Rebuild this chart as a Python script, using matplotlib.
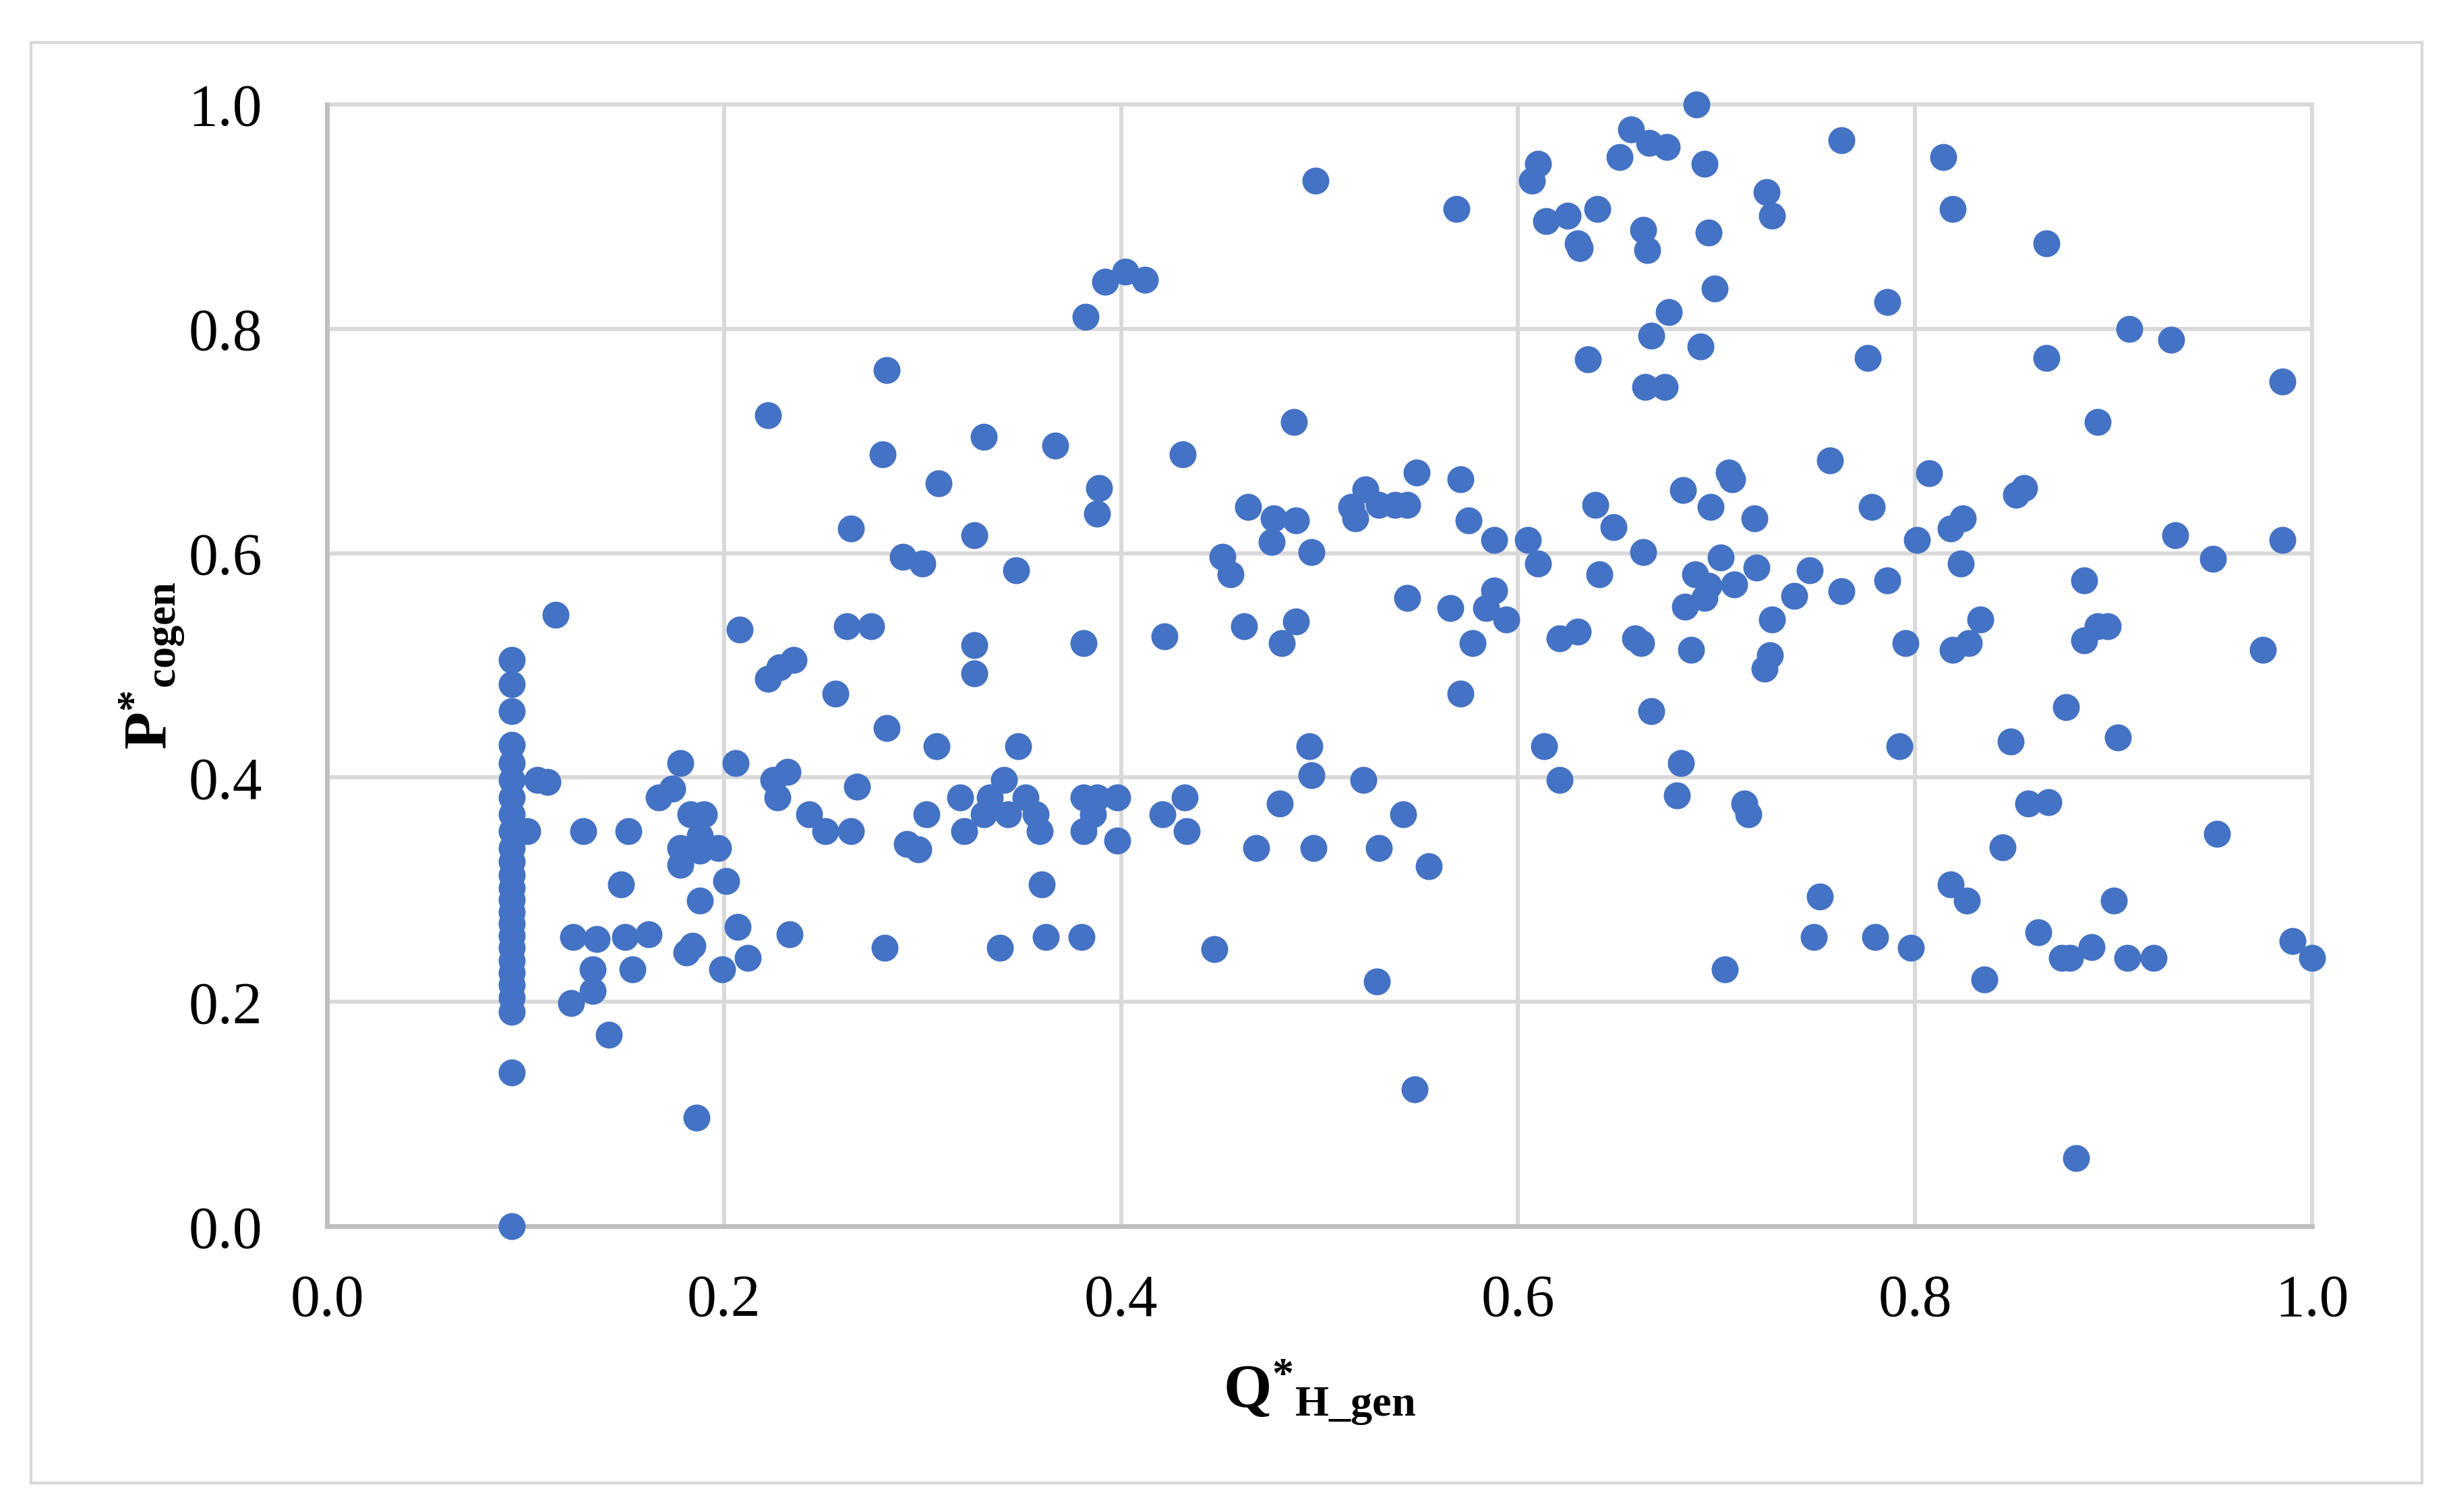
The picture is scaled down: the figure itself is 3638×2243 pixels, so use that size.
import matplotlib
matplotlib.use('Agg')
import matplotlib.pyplot as plt
from matplotlib.patches import Rectangle

plt.rcParams['font.family'] = ['Liberation Serif', 'DejaVu Serif']
plt.rcParams['mathtext.fontset'] = 'custom'
plt.rcParams['mathtext.rm'] = 'Liberation Serif'
plt.rcParams['mathtext.bf'] = 'Liberation Serif:bold'
plt.rcParams['mathtext.it'] = 'Liberation Serif:italic'

# Pontos (Q*_H_gen, P*_cogen).
q_h_gen = [
    0.093, 0.093, 0.093, 0.093, 0.093, 0.093, 0.093, 0.093, 0.093, 0.093,
    0.093, 0.093, 0.093, 0.093, 0.093, 0.093, 0.093, 0.093, 0.093, 0.093,
    0.093, 0.093, 0.093, 0.093, 0.093,
    0.106, 0.111, 0.101, 0.115,
    0.308, 0.264, 0.326, 0.290, 0.300,
    0.208, 0.262, 0.274, 0.326, 0.326,
    0.235, 0.228, 0.222, 0.256, 0.282, 0.307,
    0.178, 0.206, 0.232, 0.225, 0.227,
    0.174, 0.167, 0.267, 0.243, 0.251, 0.264,
    0.183, 0.190, 0.129, 0.152, 0.188,
    0.178, 0.197, 0.188, 0.292, 0.298,
    0.302, 0.319, 0.331, 0.321,
    0.178, 0.148, 0.201, 0.188, 0.207, 0.233,
    0.124, 0.136, 0.150, 0.162, 0.181, 0.184,
    0.212, 0.199, 0.134, 0.154, 0.134, 0.123,
    0.142, 0.186, 0.281, 0.339,
    0.282, 0.222, 0.331, 0.280,
    0.657, 0.666, 0.675, 0.651, 0.610, 0.607, 0.498,
    0.569, 0.640, 0.614, 0.625, 0.630, 0.631, 0.663, 0.665,
    0.402, 0.392, 0.412, 0.382, 0.667, 0.635, 0.664,
    0.487, 0.367, 0.431, 0.549, 0.571,
    0.690, 0.763, 0.694, 0.814, 0.725, 0.728, 0.819, 0.696,
    0.866, 0.699, 0.786, 0.676, 0.692, 0.776, 0.908, 0.929,
    0.866, 0.985, 0.674, 0.892, 0.757, 0.706, 0.708, 0.807,
    0.683, 0.697, 0.719, 0.778, 0.855, 0.851, 0.824, 0.818, 0.801,
    0.931, 0.985, 0.663, 0.702, 0.950, 0.823, 0.689, 0.720, 0.747,
    0.696, 0.709, 0.786, 0.763, 0.885, 0.739, 0.694, 0.684, 0.728,
    0.833, 0.892, 0.897, 0.885, 0.662, 0.687, 0.795, 0.827, 0.819,
    0.975, 0.727, 0.724, 0.667, 0.876, 0.848, 0.902, 0.792, 0.682,
    0.680, 0.714, 0.716, 0.857, 0.867, 0.952, 0.844,
    0.389, 0.388, 0.464, 0.477, 0.488, 0.476, 0.496, 0.451, 0.455,
    0.523, 0.516, 0.518, 0.530, 0.538, 0.544,
    0.575, 0.588, 0.605, 0.610, 0.639, 0.648, 0.641, 0.347,
    0.544, 0.566, 0.588, 0.584, 0.594, 0.577, 0.621, 0.630, 0.659,
    0.381, 0.422, 0.462, 0.488, 0.481, 0.571,
    0.348, 0.495, 0.496, 0.522, 0.613, 0.621,
    0.341, 0.334, 0.352, 0.343, 0.357, 0.359,
    0.381, 0.388, 0.398, 0.386, 0.381, 0.398,
    0.432, 0.421, 0.433, 0.480, 0.468, 0.497, 0.530, 0.542, 0.555,
    0.360, 0.362, 0.380, 0.447, 0.529, 0.548,
    0.752, 0.818, 0.826, 0.900, 0.749, 0.780, 0.798, 0.704, 0.862,
    0.874, 0.878, 0.889, 0.907, 0.920, 0.835, 0.990, 1.000, 0.881,
]
p_cogen = [
    0.505, 0.483, 0.459, 0.429, 0.413, 0.398, 0.382, 0.367, 0.352, 0.337,
    0.325, 0.313, 0.302, 0.291, 0.280, 0.270, 0.259, 0.248, 0.237, 0.226,
    0.215, 0.204, 0.191, 0.137, 0.000,
    0.398, 0.396, 0.352, 0.545,
    0.662, 0.622, 0.616, 0.597, 0.591,
    0.532, 0.535, 0.535, 0.518, 0.493,
    0.505, 0.498, 0.488, 0.475, 0.444, 0.428,
    0.413, 0.413, 0.405, 0.398, 0.382,
    0.390, 0.382, 0.392, 0.367, 0.352, 0.352,
    0.367, 0.367, 0.352, 0.352, 0.348,
    0.337, 0.337, 0.335, 0.341, 0.336,
    0.367, 0.382, 0.367, 0.352,
    0.322, 0.305, 0.308, 0.290, 0.267, 0.260,
    0.258, 0.256, 0.258, 0.260, 0.244, 0.250,
    0.239, 0.229, 0.229, 0.229, 0.210, 0.199,
    0.171, 0.097, 0.248, 0.248,
    0.763, 0.723, 0.704, 0.688,
    0.978, 0.966, 0.962, 0.953, 0.947, 0.932, 0.932,
    0.907, 0.907, 0.896, 0.901, 0.876, 0.872, 0.888, 0.870,
    0.851, 0.842, 0.844, 0.811, 0.794, 0.773, 0.748,
    0.717, 0.696, 0.688, 0.672, 0.666,
    1.000, 0.968, 0.947, 0.953, 0.922, 0.901, 0.907, 0.886,
    0.876, 0.836, 0.824, 0.815, 0.784, 0.774, 0.800, 0.790,
    0.774, 0.753, 0.748, 0.717, 0.683, 0.672, 0.666, 0.671,
    0.656, 0.641, 0.631, 0.641, 0.658, 0.652, 0.631, 0.622, 0.612,
    0.616, 0.612, 0.601, 0.596, 0.595, 0.591, 0.581, 0.587, 0.585,
    0.571, 0.572, 0.576, 0.566, 0.576, 0.562, 0.560, 0.552, 0.541,
    0.541, 0.535, 0.535, 0.522, 0.520, 0.514, 0.520, 0.520, 0.514,
    0.514, 0.509, 0.497, 0.459, 0.463, 0.432, 0.436, 0.428, 0.413,
    0.384, 0.377, 0.367, 0.377, 0.378, 0.350, 0.338,
    0.658, 0.635, 0.641, 0.631, 0.629, 0.610, 0.601, 0.597, 0.581,
    0.657, 0.641, 0.631, 0.643, 0.643, 0.643,
    0.629, 0.612, 0.612, 0.591, 0.643, 0.623, 0.581, 0.585,
    0.560, 0.551, 0.567, 0.551, 0.541, 0.520, 0.524, 0.530, 0.524,
    0.520, 0.526, 0.535, 0.539, 0.520, 0.475,
    0.428, 0.428, 0.402, 0.398, 0.428, 0.398,
    0.398, 0.382, 0.382, 0.367, 0.367, 0.352,
    0.382, 0.382, 0.382, 0.367, 0.352, 0.344,
    0.382, 0.367, 0.352, 0.377, 0.337, 0.337, 0.337, 0.367, 0.321,
    0.305, 0.258, 0.258, 0.247, 0.218, 0.122,
    0.294, 0.305, 0.290, 0.290, 0.258, 0.258, 0.248, 0.229, 0.262,
    0.239, 0.239, 0.249, 0.239, 0.239, 0.220, 0.254, 0.239, 0.061,
]
x_ticks = [0.0, 0.2, 0.4, 0.6, 0.8, 1.0]
y_ticks = [0.0, 0.2, 0.4, 0.6, 0.8, 1.0]

fig = plt.figure(figsize=(3638 / 300, 2243 / 300), dpi=300)
ax = fig.add_axes([0.1333, 0.189, 0.8093, 0.7419])

ax.scatter(q_h_gen, p_cogen, s=92, color='#4472C4', linewidths=0, clip_on=False, zorder=3)

ax.set_xlim(0, 1)
ax.set_ylim(0, 1)
ax.set_xticks(x_ticks)
ax.set_yticks(y_ticks)
ax.set_xticklabels([f'{v:.1f}' for v in x_ticks])
ax.set_yticklabels([f'{v:.1f}' for v in y_ticks])
ax.tick_params(axis='both', length=0, labelsize=21)
ax.tick_params(axis='x', pad=17)
ax.tick_params(axis='y', pad=23)

ax.grid(True, color='#D9D9D9', linewidth=1.45)
ax.set_axisbelow(True)
for linha in ax.get_xgridlines() + ax.get_ygridlines():
    linha.set_clip_on(False)

for lado in ['top', 'right']:
    ax.spines[lado].set_visible(False)
for lado in ['left', 'bottom']:
    ax.spines[lado].set_color('#BFBFBF')
    ax.spines[lado].set_linewidth(1.7)
    ax.spines[lado].set_zorder(2.5)

ax.set_xlabel(r'$\mathbf{Q}^{\mathbf{*}}{}_{\mathbf{H\_gen}}$', fontsize=22)
ax.xaxis.set_label_coords(0.5, -0.148)
ax.xaxis.label.set_va('center')
ax.set_ylabel(r'$\mathbf{P}^{\mathbf{*}}{}_{\mathbf{cogen}}$', fontsize=22)
ax.yaxis.set_label_coords(-0.088, 0.5)
ax.yaxis.label.set_va('center')

# Moldura externa do gráfico.
fig.patches.append(Rectangle((0.0127, 0.0192), 0.9747, 0.9528, transform=fig.transFigure,
                             fill=False, edgecolor='#D9D9D9', linewidth=1.0))

fig.savefig('out.png', dpi=300, facecolor='white')
